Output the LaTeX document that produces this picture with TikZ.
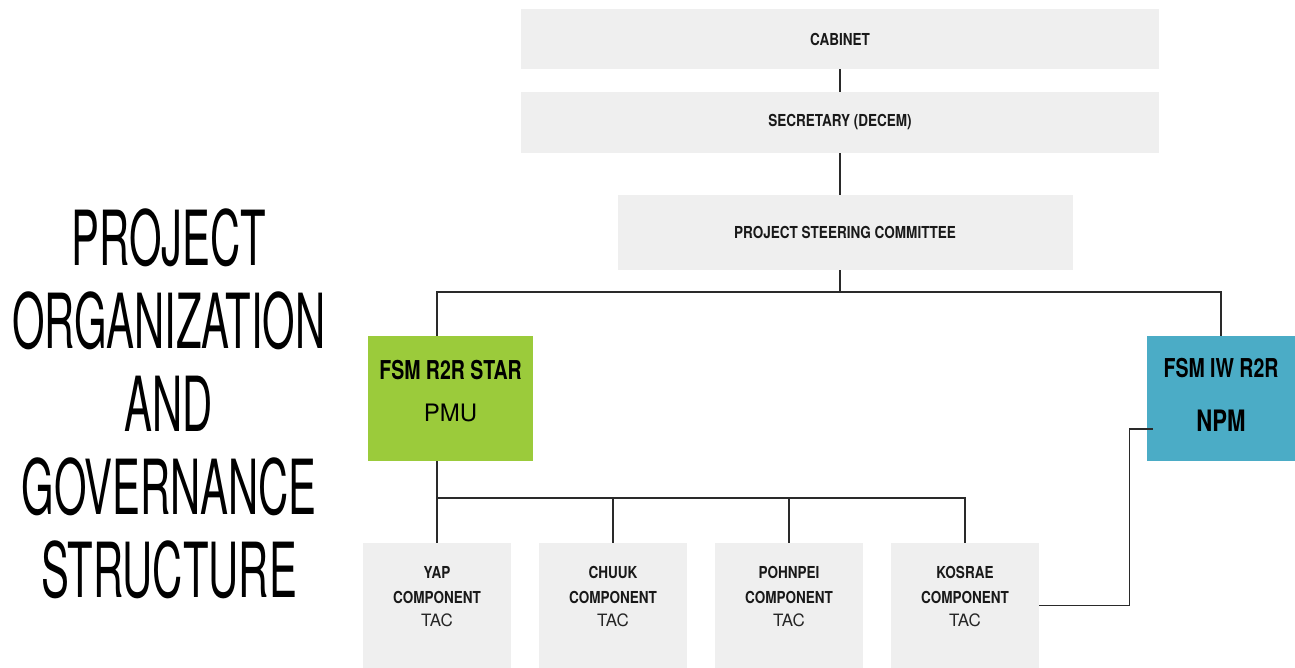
\documentclass[tikz,border=0pt]{standalone}
\usepackage{fontspec}
\setmainfont{TeX Gyre Heros}
\newfontfamily\titlef[FakeStretch=0.55]{TeX Gyre Heros}
\newfontfamily\condf[FakeStretch=0.75]{TeX Gyre Heros}
\newfontfamily\smallf[FakeStretch=0.82]{TeX Gyre Heros}
\definecolor{boxgrey}{HTML}{EFEFEF}
\definecolor{pmugreen}{HTML}{9BCB3B}
\definecolor{npmblue}{HTML}{4BACC6}
\definecolor{linegrey}{HTML}{2A2A2A}
\tikzset{
  greybox/.style={rectangle, fill=boxgrey, inner sep=0pt},
  smalltxt/.style={font=\smallf\bfseries\fontsize{16.5}{24}\selectfont, align=center, text=black!90},
  conn/.style={draw=linegrey, line width=1.3pt},
}
\begin{document}
\begin{tikzpicture}[x=1pt,y=-1pt]
\useasboundingbox (0,0) rectangle (1295,668);
% title
\node[align=center, font=\titlef\fontsize{76}{83}\selectfont] (title) at (169,404)
  {PROJECT\\ORGANIZATION\\AND\\GOVERNANCE\\STRUCTURE};
% top boxes
\node[greybox, minimum width=638pt, minimum height=60pt] (cab) at (840,39) {};
\node[smalltxt] (cabt) at (cab.center) {CABINET};
\node[greybox, minimum width=638pt, minimum height=61pt] (sec) at (840,122.5) {};
\node[smalltxt] (sect) at (sec.center) {SECRETARY (DECEM)};
\node[greybox, minimum width=455pt, minimum height=75pt] (psc) at (845.5,232.5) {};
\node[smalltxt] (psct) at ([xshift=-0.5pt]psc.center) {PROJECT STEERING COMMITTEE};
% PMU / NPM
\node[rectangle, fill=pmugreen, inner sep=0pt, minimum width=165pt, minimum height=125pt] (pmu) at (450.5,398.5) {};
\node[font=\condf\bfseries\fontsize{26}{30}\selectfont] (pmut1) at (450.5,370) {FSM R2R STAR};
\node[font=\fontsize{24}{30}\selectfont] (pmut2) at (450.5,413) {PMU};
\node[rectangle, fill=npmblue, inner sep=0pt, minimum width=148pt, minimum height=125pt] (npm) at (1221,398.5) {};
\node[font=\condf\bfseries\fontsize{26}{30}\selectfont] (npmt1) at (1221,368) {FSM IW R2R};
\node[font=\condf\bfseries\fontsize{29.5}{34}\selectfont] (npmt2) at (1221,421) {NPM};
% components
\foreach \n/\cx/\nm in {yap/437/YAP, chu/613/CHUUK, poh/789/POHNPEI, kos/965/KOSRAE}{
  \node[greybox, minimum width=148pt, minimum height=125pt] (\n) at (\cx,605.5) {};
  \node[smalltxt] (\n t1) at (\cx,572) {\nm};
  \node[smalltxt] (\n t2) at (\cx,597) {COMPONENT};
  \node[font=\fontsize{17}{20}\selectfont, text=black!85] (\n t3) at (\cx,620) {TAC};
}
% connectors
\coordinate (bus1) at (840,292);
\coordinate (bus2) at (437,498);
\coordinate (npmin) at (1153,429);
\draw[conn] (cab.south) -- (sec.north);
\draw[conn] (sec.south) -- (sec.south |- psc.north);
\draw[conn] (psc.south -| bus1) -- (bus1);
\draw[conn] ([xshift=-13.5pt]pmu.north) |- (bus1) -| (npm.north);
\draw[conn] ([xshift=-13.5pt]pmu.south) -- (yap.north);
\draw[conn] (yap.north |- bus2) -| (kos.north);
\draw[conn] (chu.north |- bus2) -- (chu.north);
\draw[conn] (poh.north |- bus2) -- (poh.north);
\draw[conn] (kos.east) -- ++(90,0) |- (npmin);
\end{tikzpicture}
\end{document}
